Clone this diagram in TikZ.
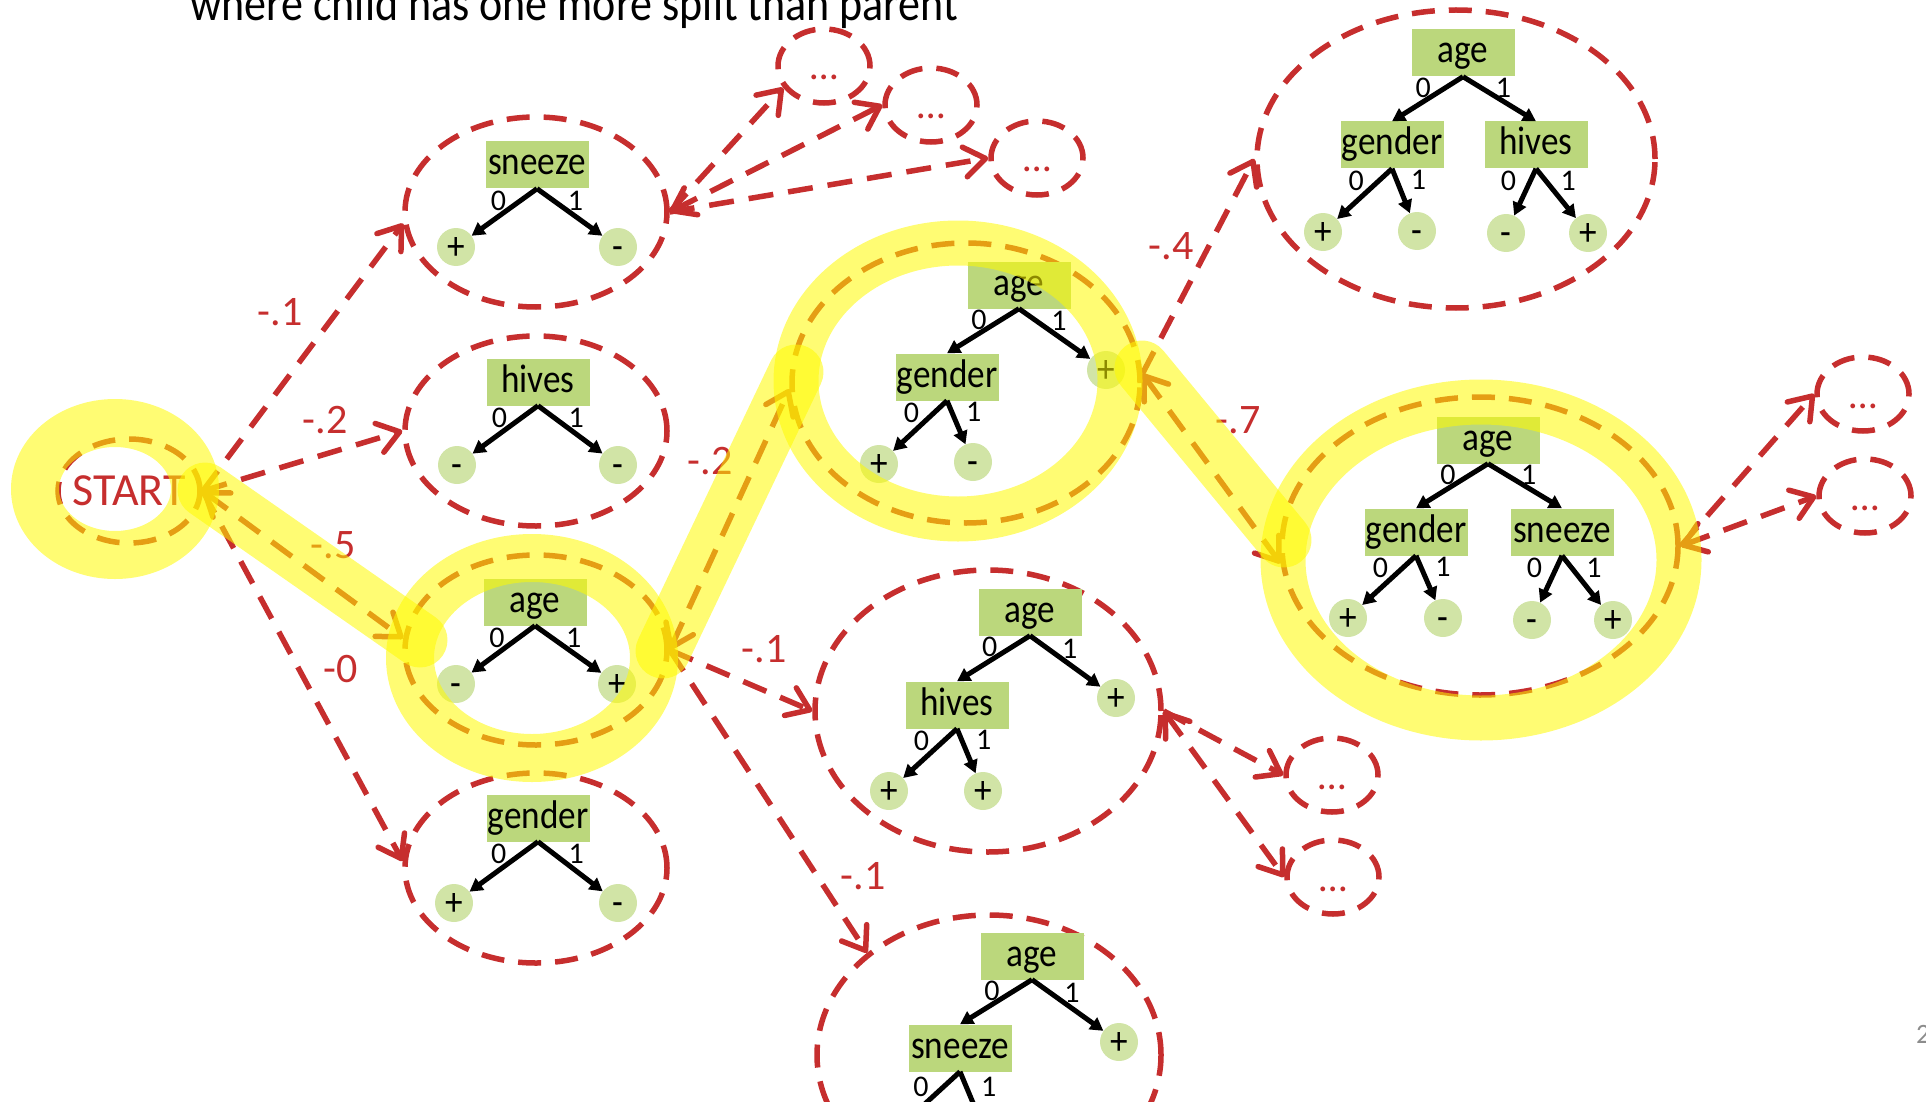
\documentclass[tikz,border=0pt]{standalone}
\usepackage{fontspec}
\setmainfont{Carlito}
\newfontfamily\slidefont{Carlito}[FakeStretch=0.88]
\usetikzlibrary{arrows.meta,shapes.geometric}
\definecolor{dashred}{RGB}{198,46,46}
\definecolor{featgreen}{RGB}{187,215,124}
\definecolor{leafgreen}{RGB}{209,228,166}
\definecolor{hlyellow}{RGB}{255,250,0}
\definecolor{pagegray}{RGB}{140,140,140}
\tikzset{barb/.tip={Straight Barb[length=21pt,width=30pt,round]}}
\begin{document}
\begin{tikzpicture}[x=1pt,y=-1pt,
  feat/.style={fill=featgreen,minimum width=103pt,minimum height=47pt,inner sep=0pt,text height=28pt,text depth=8pt,font=\slidefont\fontsize{40}{40}\selectfont},
  leaf/.style={circle,fill=leafgreen,minimum size=38pt,inner sep=0pt,text height=28pt,text depth=4pt,font=\slidefont\fontsize{40}{40}\selectfont},
  bit/.style={inner sep=0pt,font=\fontsize{30}{30}\selectfont},
  tarr/.style={-{Triangle[length=13pt,width=14pt]},line width=5pt},
  cand/.style={ellipse,draw=dashred,line width=5.5pt,dash pattern=on 23pt off 14pt,inner sep=0pt},
  more/.style={cand,minimum width=92pt,minimum height=74pt,text=dashred,text height=28pt,text depth=0pt,font=\fontsize{40}{40}\selectfont},
  arr/.style={-barb,draw=dashred,line width=5.5pt,dash pattern=on 25pt off 15pt},
  both/.style={arr,barb-barb},
  wt/.style={text=dashred,inner sep=0pt,font=\fontsize{42}{42}\selectfont},
  hl/.style={draw=hlyellow,opacity=.55,line width=48pt,line cap=round,line join=round}]
\path[use as bounding box,clip] (0,0) rectangle (1926,1102);

\node[anchor=base west,inner sep=0pt,font=\slidefont\fontsize{50}{50}\selectfont] (title) at (190,21) {where child has one more split than parent};
\node[anchor=base west,inner sep=0pt,text=pagegray,font=\fontsize{28}{28}\selectfont] (page) at (1916,1043) {2};

\node[cand,minimum width=142pt,minimum height=104pt,inner xsep=-10pt,text=dashred,font=\fontsize{46}{46}\selectfont] (start) at (129,491) {START};

% one split
\node[cand,minimum width=262pt,minimum height=190pt] (tA) at (536,212) {};
\node[feat] (aRoot) at (537,165) {sneeze};
\node[leaf] (aL) at (456,247) {+};
\node[leaf] (aR) at (618,247) {-};
\draw[tarr] (aRoot.south) -- node[bit,pos=.25,left=12pt]{0} (aL);
\draw[tarr] (aRoot.south) -- node[bit,pos=.25,right=12pt]{1} (aR);

\node[cand,minimum width=262pt,minimum height=190pt] (tB) at (536,431) {};
\node[feat] (bRoot) at (538,382) {hives};
\node[leaf] (bL) at (457,465) {-};
\node[leaf] (bR) at (618,465) {-};
\draw[tarr] (bRoot.south) -- node[bit,pos=.25,left=12pt]{0} (bL);
\draw[tarr] (bRoot.south) -- node[bit,pos=.25,right=12pt]{1} (bR);

\node[cand,minimum width=262pt,minimum height=190pt] (tC) at (536,650) {};
\node[feat] (cRoot) at (535,602) {age};
\node[leaf] (cL) at (456,684) {-};
\node[leaf] (cR) at (617,684) {+};
\draw[tarr] (cRoot.south) -- node[bit,pos=.25,left=12pt]{0} (cL);
\draw[tarr] (cRoot.south) -- node[bit,pos=.25,right=12pt]{1} (cR);

\node[cand,minimum width=262pt,minimum height=190pt] (tD) at (536,868) {};
\node[feat] (dRoot) at (538,818) {gender};
\node[leaf] (dL) at (454,903) {+};
\node[leaf] (dR) at (618,903) {-};
\draw[tarr] (dRoot.south) -- node[bit,pos=.25,left=12pt]{0} (dL);
\draw[tarr] (dRoot.south) -- node[bit,pos=.25,right=12pt]{1} (dR);

% two splits
\node[cand,minimum width=348pt,minimum height=280pt] (tE) at (966,383) {};
\node[feat] (eRoot) at (1019,285) {age};
\node[feat] (eG) at (947,377) {gender};
\node[leaf] (eP) at (1106,370) {+};
\node[leaf] (eGL) at (879,464) {+};
\node[leaf] (eGR) at (973,462) {-};
\draw[tarr] (eRoot.south) -- node[bit,pos=.25,left=12pt]{0} (eG.north);
\draw[tarr] (eRoot.south) -- node[bit,pos=.25,right=12pt]{1} (eP);
\draw[tarr] (eG.south) -- node[bit,pos=.25,left=12pt]{0} (eGL);
\draw[tarr] (eG.south) -- node[bit,pos=.25,right=12pt]{1} (eGR);

\node[cand,minimum width=346pt,minimum height=282pt] (tF) at (988,711) {};
\node[feat] (fRoot) at (1030,612) {age};
\node[feat] (fH) at (957,705) {hives};
\node[leaf] (fP) at (1116,698) {+};
\node[leaf] (fHL) at (889,791) {+};
\node[leaf] (fHR) at (983,791) {+};
\draw[tarr] (fRoot.south) -- node[bit,pos=.25,left=12pt]{0} (fH.north);
\draw[tarr] (fRoot.south) -- node[bit,pos=.25,right=12pt]{1} (fP);
\draw[tarr] (fH.south) -- node[bit,pos=.25,left=12pt]{0} (fHL);
\draw[tarr] (fH.south) -- node[bit,pos=.25,right=12pt]{1} (fHR);

\node[cand,minimum width=344pt,minimum height=280pt] (tG) at (989,1055) {};
\node[feat] (gRoot) at (1032,956) {age};
\node[feat] (gS) at (960,1048) {sneeze};
\node[leaf] (gP) at (1119,1042) {+};
\coordinate (gSL) at (892,1134);
\coordinate (gSR) at (986,1134);
\draw[tarr] (gRoot.south) -- node[bit,pos=.25,left=12pt]{0} (gS.north);
\draw[tarr] (gRoot.south) -- node[bit,pos=.25,right=12pt]{1} (gP);
\draw[tarr] (gS.south) -- node[bit,pos=.25,left=12pt]{0} (gSL);
\draw[tarr] (gS.south) -- node[bit,pos=.25,right=12pt]{1} (gSR);

% three splits
\node[cand,minimum width=398pt,minimum height=298pt] (tH) at (1456,159) {};
\node[feat] (hRoot) at (1463,53) {age};
\node[feat] (hG) at (1392,145) {gender};
\node[feat] (hH) at (1536,145) {hives};
\node[leaf] (hGL) at (1323,232) {+};
\node[leaf] (hGR) at (1417,231) {-};
\node[leaf] (hHL) at (1506,233) {-};
\node[leaf] (hHR) at (1588,233) {+};
\draw[tarr] (hRoot.south) -- node[bit,pos=.25,left=12pt]{0} (hG.north);
\draw[tarr] (hRoot.south) -- node[bit,pos=.25,right=12pt]{1} (hH.north);
\draw[tarr] (hG.south) -- node[bit,pos=.25,left=12pt]{0} (hGL);
\draw[tarr] (hG.south) -- node[bit,pos=.25,right=12pt]{1} (hGR);
\draw[tarr] (hH.south) -- node[bit,pos=.25,left=12pt]{0} (hHL);
\draw[tarr] (hH.south) -- node[bit,pos=.25,right=12pt]{1} (hHR);

\node[cand,minimum width=396pt,minimum height=298pt] (tI) at (1480,546) {};
\node[feat] (iRoot) at (1488,440) {age};
\node[feat] (iG) at (1416,532) {gender};
\node[feat] (iS) at (1562,532) {sneeze};
\node[leaf] (iGL) at (1348,618) {+};
\node[leaf] (iGR) at (1443,618) {-};
\node[leaf] (iSL) at (1532,620) {-};
\node[leaf] (iSR) at (1613,620) {+};
\draw[tarr] (iRoot.south) -- node[bit,pos=.25,left=12pt]{0} (iG.north);
\draw[tarr] (iRoot.south) -- node[bit,pos=.25,right=12pt]{1} (iS.north);
\draw[tarr] (iG.south) -- node[bit,pos=.25,left=12pt]{0} (iGL);
\draw[tarr] (iG.south) -- node[bit,pos=.25,right=12pt]{1} (iGR);
\draw[tarr] (iS.south) -- node[bit,pos=.25,left=12pt]{0} (iSL);
\draw[tarr] (iS.south) -- node[bit,pos=.25,right=12pt]{1} (iSR);

% not expanded
\node[more] (m1) at (824,66) {…};
\node[more] (m2) at (931,105) {…};
\node[more] (m3) at (1037,158) {…};
\node[more] (m4) at (1332,775) {…};
\node[more] (m5) at (1333,877) {…};
\node[more] (m6) at (1863,394) {…};
\node[more] (m7) at (1865,496) {…};

% moves
\draw[arr] (start.east) -- (tA.185);
\draw[arr] (start.east) -- (tB.west);
\draw[both] (start.east) -- (tC.175);
\draw[arr] (start.east) -- (tD.177);
\draw[arr] (tA.east) -- (m1.208);
\draw[both] (tA.east) -- (m2.west);
\draw[arr] (tA.east) -- (m3.west);
\draw[both] (tC.east) -- (tE.182);
\draw[arr] (tC.east) -- (tF.west);
\draw[arr] (tC.east) -- (tG.140);
\draw[arr] (tE.3) -- (tH.west);
\draw[both] (tE.3) -- (tI.185);
\draw[arr] (tF.east) -- (m4.west);
\draw[both] (tF.east) -- (m5.west);
\draw[arr] (tI.east) -- (m6.west);
\draw[both] (tI.east) -- (m7.west);

\node[wt] (w1) at (280,312) {-.1};
\node[wt] (w2) at (325,420) {-.2};
\node[wt] (w3) at (333,545) {-.5};
\node[wt] (w4) at (341,669) {-0};
\node[wt] (w5) at (710,461) {-.2};
\node[wt] (w6) at (764,649) {-.1};
\node[wt] (w7) at (863,876) {-.1};
\node[wt] (w8) at (1171,246) {-.4};
\node[wt] (w9) at (1238,420) {-.7};

% highlighted path
\draw[hl] (115,489) ellipse [x radius=80pt,y radius=66pt];
\draw[hl,line width=55pt] (205,490) -- (420,640);
\draw[hl] (532,658) ellipse [x radius=122pt,y radius=100pt];
\draw[hl,line width=55pt] (663,651) -- (796,372);
\draw[hl,line width=45pt] (958,381) ellipse [x radius=162pt,y radius=138pt];
\draw[hl,line width=55pt] (1142,368) -- (1284,540);
\draw[hl,line width=45pt] (1481,560) ellipse [x radius=198pt,y radius=158pt];
\end{tikzpicture}
\end{document}
